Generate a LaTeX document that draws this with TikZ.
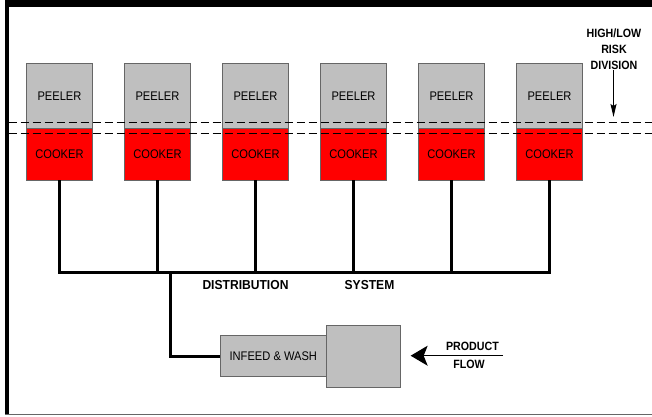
\documentclass[tikz,border=0pt]{standalone}
\usepackage{fontspec}
\usepackage{graphicx}
\setmainfont{Liberation Sans}
\usetikzlibrary{arrows.meta}
\usetikzlibrary{positioning}
\newcommand{\squeeze}[1]{\scalebox{0.89}[1]{#1}}
\tikzset{
  unit box/.style={draw=black!60,line width=0.8pt,inner sep=0pt,outer sep=0pt,font=\fontsize{12.5}{14}\selectfont},
  peeler/.style={unit box,fill=black!25,minimum width=65.5pt,minimum height=65pt},
  cooker/.style={unit box,fill=red,minimum width=65.5pt,minimum height=51.7pt},
  tag/.style={font=\fontsize{13}{15}\selectfont\bfseries,inner sep=0pt},
  small tag/.style={font=\fontsize{12}{16}\selectfont\bfseries,inner sep=0pt,align=center},
  pipe/.style={line width=2.6pt},
  divide/.style={dash pattern=on 8pt off 4pt}
}

\begin{document}
\begin{tikzpicture}[x=1pt,y=-1pt]
    \useasboundingbox (0,0) rectangle (652,416);
    % frame
    \fill (5,0) rectangle (652,7);
    \fill (5,0) rectangle (8.5,415);
    \draw[black!60,line width=1.3pt] (5,414.6) -- (652,414.6);
    % peeler / cooker units
    \node[peeler] (p1) at (59.5,95.8) {\squeeze{PEELER}};
    \node[cooker,below=0pt of p1] (c1) {\squeeze{COOKER}};
    \node[peeler] (p2) at (157.5,95.8) {\squeeze{PEELER}};
    \node[cooker,below=0pt of p2] (c2) {\squeeze{COOKER}};
    \node[peeler] (p3) at (255.5,95.8) {\squeeze{PEELER}};
    \node[cooker,below=0pt of p3] (c3) {\squeeze{COOKER}};
    \node[peeler] (p4) at (353.5,95.8) {\squeeze{PEELER}};
    \node[cooker,below=0pt of p4] (c4) {\squeeze{COOKER}};
    \node[peeler] (p5) at (451.5,95.8) {\squeeze{PEELER}};
    \node[cooker,below=0pt of p5] (c5) {\squeeze{COOKER}};
    \node[peeler] (p6) at (549.5,95.8) {\squeeze{PEELER}};
    \node[cooker,below=0pt of p6] (c6) {\squeeze{COOKER}};
    % high/low risk division
    \draw[divide,line width=1.8pt] (8.5,122.5) -- (652,122.5);
    \draw[divide,line width=1pt] (8.5,133.3) -- (652,133.3);
    \node[small tag] (risk) at (614,49) {\squeeze{HIGH/LOW}\\\squeeze{RISK}\\\squeeze{DIVISION}};
    \coordinate (riskend) at (613.5,117);
    \draw[line width=1.2pt,-{Stealth[length=13pt,width=6pt,inset=2pt]}] (risk.south -| riskend) -- (riskend);
    % distribution system
    \coordinate (bus) at (0,272.5);
    \coordinate (feed) at (170.7,272.5);
    \draw[pipe] (c1.south) -- (c1.south |- bus) -| (c6.south);
    \draw[pipe] (c2.south) -- (c2.south |- bus);
    \draw[pipe] (c3.south) -- (c3.south |- bus);
    \draw[pipe] (c4.south) -- (c4.south |- bus);
    \draw[pipe] (c5.south) -- (c5.south |- bus);
    \node[tag] (dist) at (245.5,285) {\scalebox{0.93}[1]{DISTRIBUTION}};
    \node[tag] (sys) at (369.5,285) {\scalebox{0.93}[1]{SYSTEM}};
    % infeed
    \node[unit box,fill=black!25,minimum width=73.3pt,minimum height=62.3pt] (tank) at (363.3,356.2) {};
    \node[unit box,fill=black!25,minimum width=106.7pt,minimum height=40.7pt,left=0pt of tank] (infeed) {\squeeze{INFEED \& WASH}};
    \draw[pipe] (infeed.west) -| (feed);
    % product flow
    \coordinate (flow) at (503,355.7);
    \draw[line width=1.2pt,-{Stealth[length=17pt,width=20pt,inset=4pt]}] (flow) -- ([xshift=10.7pt]tank.east |- flow);
    \node[small tag] (prod) at (472.5,346.5) {\squeeze{PRODUCT}};
    \node[small tag] (fl) at (469,364.5) {\squeeze{FLOW}};
\end{tikzpicture}
\end{document}
